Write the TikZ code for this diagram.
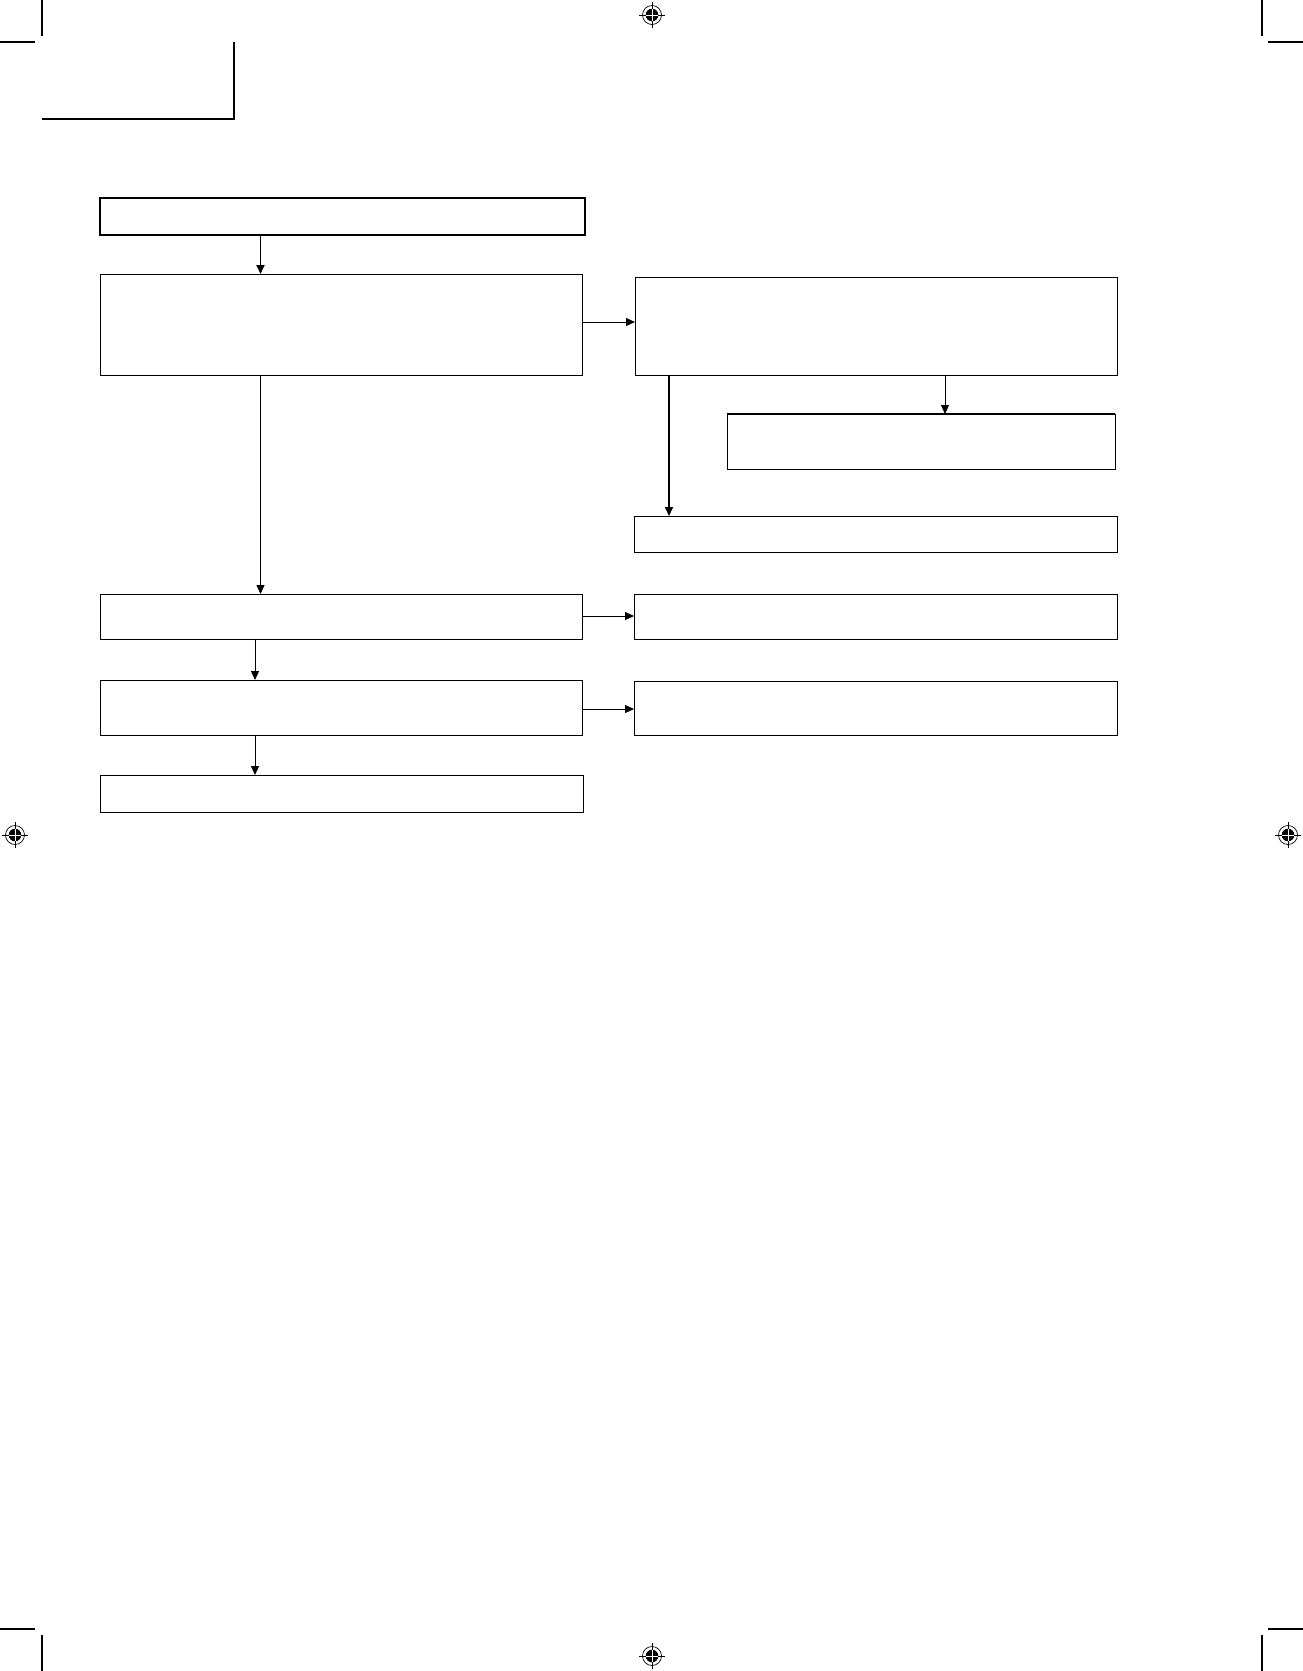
\documentclass[tikz,border=0pt]{standalone}
\usetikzlibrary{arrows.meta,calc}
\begin{document}
\begin{tikzpicture}[x=1pt,y=-1pt,
  box/.style={draw, line width=0.9pt, inner sep=0pt, outer sep=0pt},
  thickbox/.style={box, line width=2.4pt},
  arr/.style={line width=0.9pt, -{Triangle[length=9pt,width=8pt]}},
  thickarr/.style={arr, line width=1.8pt},
  cropmark/.style={line width=1.3pt},
  regmark/.pic={
    \draw[line width=0.7pt] (-13,0) -- (13,0) (0,-13) -- (0,13);
    \draw[line width=0.7pt] (0,0) circle[radius=9.5];
    \fill (0,0) circle[radius=6.3];
    \draw[white, line width=1pt] (-6.3,0) -- (6.3,0) (0,-6.3) -- (0,6.3);
  }]
\fill[white] (0,0) rectangle (1303,1671);
\useasboundingbox (0,0) rectangle (1303,1671);

% crop marks
\draw[cropmark] (42,0) -- (42,36) (0,42) -- (35,42);
\draw[cropmark] (1262,0) -- (1262,36) (1268,42) -- (1303,42);
\draw[cropmark] (42,1635) -- (42,1671) (0,1629) -- (35,1629);
\draw[cropmark] (1262,1635) -- (1262,1671) (1268,1629) -- (1303,1629);

% registration marks
\pic at (652,15) {regmark};
\pic at (15,835) {regmark};
\pic at (1288,835) {regmark};
\pic at (652,1656) {regmark};

% corner bracket
\draw[line width=2pt] (42,119) -- (234,119) -- (234,42);

% boxes
\node[thickbox, minimum width=485pt, minimum height=37pt] (b1) at (342.5,216.5) {};
\node[box, minimum width=482pt, minimum height=101pt] (b2) at (341,324.5) {};
\node[box, minimum width=482pt, minimum height=98pt] (b3) at (876,326) {};
\node[box, minimum width=388pt, minimum height=55pt] (b4) at (921,441.5) {};
\node[box, minimum width=483pt, minimum height=36pt] (b5) at (875.5,534) {};
\node[box, minimum width=482pt, minimum height=45pt] (b6) at (341,616.5) {};
\node[box, minimum width=483pt, minimum height=45pt] (b7) at (875.5,616.5) {};
\node[box, minimum width=482pt, minimum height=55pt] (b8) at (341,707.5) {};
\node[box, minimum width=483pt, minimum height=54pt] (b9) at (875.5,708) {};
\node[box, minimum width=483pt, minimum height=37pt] (b10) at (341.5,793.5) {};
\draw[line width=1.6pt] (b4.north west) -- (b4.north east);

% helper coordinates for connector positions
\coordinate (xa) at (260.5,0);
\coordinate (xb) at (255,0);
\coordinate (xc) at (669,0);
\coordinate (xd) at (945,0);
\coordinate (ya) at (0,322);
\coordinate (yb) at (0,616);
\coordinate (yc) at (0,709);

% connectors
\draw[thickarr] (b1.south -| xa) -- (b2.north -| xa);
\draw[arr] (b2.east |- ya) -- (b3.west |- ya);
\draw[arr] (b3.south -| xd) -- (b4.north -| xd);
\draw[thickarr] (b3.south -| xc) -- (b5.north -| xc);
\draw[arr] (b2.south -| xa) -- (b6.north -| xa);
\draw[arr] (b6.east |- yb) -- (b7.west |- yb);
\draw[arr] (b6.south -| xb) -- (b8.north -| xb);
\draw[arr] (b8.east |- yc) -- (b9.west |- yc);
\draw[arr] (b8.south -| xb) -- (b10.north -| xb);
\end{tikzpicture}
\end{document}
